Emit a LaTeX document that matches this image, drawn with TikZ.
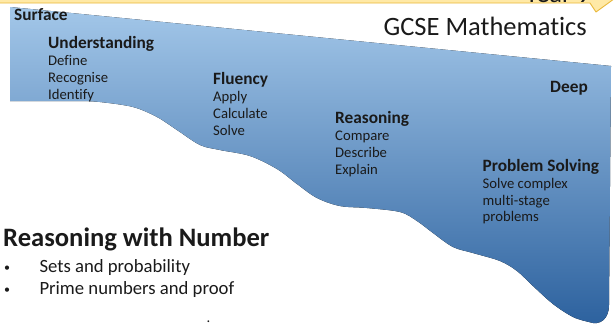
\documentclass[tikz,border=0pt]{standalone}
\usepackage{fontspec}
\setmainfont{Carlito}[Ligatures=NoCommon]
\usepackage{xcolor}
\usepackage{tikz}
\usetikzlibrary{positioning}
\definecolor{ink}{HTML}{1A1A1A}
\definecolor{waveTop}{HTML}{A3C7E9}
\definecolor{waveMid}{HTML}{6C9FD4}
\definecolor{waveBot}{HTML}{2C619E}
\definecolor{bandFill}{HTML}{FFE9A6}
\definecolor{bandLine}{HTML}{E9B83A}
\tikzset{
  wave/.style={top color=waveTop, middle color=waveMid, bottom color=waveBot},
  band/.style={fill=bandFill, draw=bandLine, line width=0.9pt, line join=round},
  head/.style={anchor=base west, inner sep=0pt, text=ink, font=\fontsize{17.3}{20}\selectfont\bfseries},
  item/.style={anchor=base west, inner sep=0pt, text=ink, font=\fontsize{14.7}{17}\selectfont},
  big/.style={inner sep=0pt, text=ink, font=\fontsize{26.5}{30}\selectfont},
  bul/.style={anchor=base west, inner sep=0pt, text=ink, font=\fontsize{18.7}{22}\selectfont},
}
\begin{document}
\begin{tikzpicture}[x=1pt,y=-1pt]
  \useasboundingbox (0,0) rectangle (615,325);
  \clip (0,0) rectangle (615,325);

  % year arrow along the top
  \draw[band] (-5,-30) -- (-5,3) -- (590,3) -- (596,12) -- (640,-20) -- (590,-40) -- cycle;
  \node[big, anchor=base east] (year) at (591,2.5) {Year 9};

  % the sloping wave
  \fill[wave] (10,7) -- (611,66) -- (609,305)
    .. controls (609,319) and (600,326) .. (589,322)
    -- plot[smooth, tension=0.55] coordinates {(589,322) (573,317) (553,304) (533,286)
      (517,271) (500,261) (473,253) (453,247) (433,233) (417,221) (400,212)
      (367,208) (340,206) (317,198) (297,184) (277,169) (250,156) (220,150)
      (200,145) (177,130) (157,117) (133,107) (100,102) (80,101)}
    -- (10,101) -- cycle;

  \node[big, anchor=base east] (gcse) at (587,35.5) {GCSE Mathematics};
  \node[head] (surface) at (14,20.5) {Surface};
  \node[head, anchor=base east] (deep) at (588,92) {Deep};

  % the four stages
  \node[head] (und) at (48,48) {Understanding};
  \foreach \w [count=\i] in {Define,Recognise,Identify}
    \node[item] (und\i) at (48,47.8+17.2*\i) {\w};

  \node[head] (flu) at (213,84) {Fluency};
  \foreach \w [count=\i] in {Apply,Calculate,Solve}
    \node[item] (flu\i) at (213,84.3+17*\i) {\w};

  \node[head] (rea) at (335,123.3) {Reasoning};
  \foreach \w [count=\i] in {Compare,Describe,Explain}
    \node[item] (rea\i) at (335,123.5+17*\i) {\w};

  \node[head] (pro) at (482.5,171.7) {Problem Solving};
  \foreach \w [count=\i] in {Solve complex,multi-stage,problems}
    \node[item] (pro\i) at (482.5,171.5+16.8*\i) {\w};

  % topic list
  \node[big, anchor=base west, font=\fontsize{26.6}{30}\selectfont\bfseries] (topic) at (3,246.7) {Reasoning with Number};
  \foreach \w [count=\i] in {Sets and probability,Prime numbers and proof} {
    \node[bul, anchor=base, font=\fontsize{12}{14}\selectfont] (dot\i) at (7,249.5+22.2*\i) {\textbullet};
    \node[bul] (top\i) at (39.3,250.5+22.2*\i) {\w};
  }
  \node[item] (stray) at (206.5,322.5) {.};
\end{tikzpicture}
\end{document}
